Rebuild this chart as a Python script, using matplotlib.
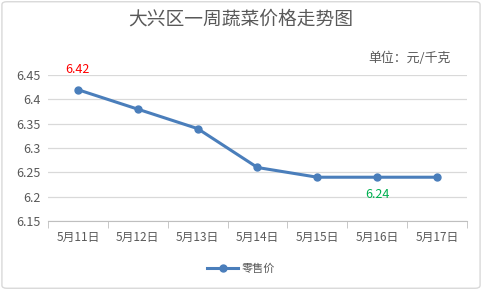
import matplotlib
matplotlib.use("Agg")
import matplotlib.pyplot as plt
from matplotlib.patches import FancyBboxPatch
import numpy as np

plt.rcParams['font.family'] = ['Noto Sans CJK SC', 'DejaVu Sans']

dates = ["5月11日", "5月12日", "5月13日", "5月14日", "5月15日", "5月16日", "5月17日"]
prices = [6.42, 6.38, 6.34, 6.26, 6.24, 6.24, 6.24]
yticks = [6.15, 6.2, 6.25, 6.3, 6.35, 6.4, 6.45]
ytick_labels = ["6.15", "6.2", "6.25", "6.3", "6.35", "6.4", "6.45"]

fig = plt.figure(figsize=(4.82, 2.9), dpi=100)
border = FancyBboxPatch((0.004, 0.006), 0.992, 0.988, boxstyle="round,pad=0,rounding_size=0.01",
                        transform=fig.transFigure, facecolor="none", edgecolor="#D9D9D9",
                        linewidth=1, zorder=-1)
fig.patches.append(border)

ax = fig.add_axes([0.0996, 0.238, 0.869, 0.503])
ax.patch.set_alpha(0)
x = np.arange(len(dates))
ax.plot(x, prices, color="#4A7EBB", linewidth=2.2, marker="o", markersize=5, label="零售价", zorder=3)

ax.set_xlim(-0.5, len(dates) - 0.5)
ax.set_ylim(yticks[0], yticks[-1])
ax.set_yticks(yticks)
ax.set_yticklabels(ytick_labels)
ax.set_xticks(x)
ax.set_xticklabels(dates)
ax.set_xticks(np.arange(-0.5, len(dates)), minor=True)
ax.tick_params(axis="x", which="major", length=0, pad=7, labelsize=8.5, labelcolor="#595959")
ax.tick_params(axis="x", which="minor", length=5, color="#BFBFBF")
ax.tick_params(axis="y", length=0, pad=5, labelsize=9, labelcolor="#595959")
ax.grid(axis="y", color="#D9D9D9", linewidth=0.9)
ax.set_axisbelow(True)
for s in ["top", "right", "left"]:
    ax.spines[s].set_visible(False)
ax.spines["bottom"].set_color("#BFBFBF")

ax.annotate("6.42", (x[0], prices[0]), xytext=(0, 10), textcoords="offset points",
            ha="center", va="bottom", color="#FF0000", fontsize=9)
ax.annotate("6.24", (x[5], prices[5]), xytext=(0, -8), textcoords="offset points",
            ha="center", va="top", color="#00B050", fontsize=9)

fig.text(0.5, 0.935, "大兴区一周蔬菜价格走势图", ha="center", va="center", fontsize=13.5, color="#595959")
fig.text(0.935, 0.8, "单位：元/千克", ha="right", va="center", fontsize=9.3, color="#595959")

fig.legend(loc="center", bbox_to_anchor=(0.5, 0.075), frameon=False, fontsize=8,
           labelcolor="#595959", handlelength=2.8, handletextpad=0.3)

fig.savefig("out.png", dpi=100)
